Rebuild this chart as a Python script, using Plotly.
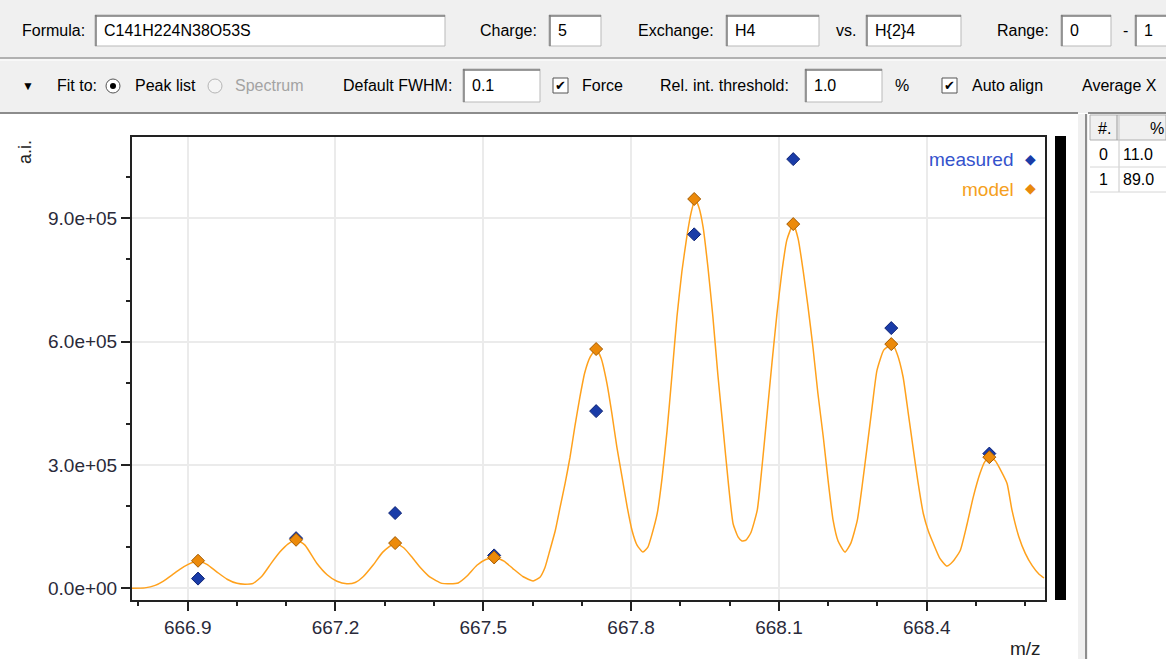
import plotly.graph_objects as go

W, H = 1166, 659

# ---------------- data ----------------
peak_mz = [666.921, 667.120, 667.321, 667.522, 667.729, 667.928, 668.129, 668.328, 668.527]
measured = [23500, 122000, 183000, 80000, 431000, 861000, 1044000, 633000, 327600]
model = [67000, 118000, 110000, 75000, 582000, 947000, 886000, 594000, 319000]

curve_mz = [666.787, 666.813, 666.834, 666.850, 666.868, 666.884, 666.901, 666.921, 666.939,
            666.959, 666.980, 667.000, 667.016, 667.033, 667.051, 667.069, 667.087, 667.104,
            667.120, 667.138, 667.162, 667.183, 667.203, 667.223, 667.240, 667.256, 667.276,
            667.296, 667.321, 667.339, 667.357, 667.374, 667.392, 667.416, 667.432, 667.449,
            667.467, 667.487, 667.505, 667.524, 667.542, 667.560, 667.581, 667.601, 667.615,
            667.625, 667.635, 667.646, 667.656, 667.666, 667.676, 667.686, 667.696, 667.706,
            667.717, 667.729, 667.739, 667.751, 667.761, 667.771, 667.782, 667.792, 667.802,
            667.812, 667.824, 667.834, 667.842, 667.853, 667.863, 667.873, 667.883, 667.893,
            667.903, 667.913, 667.922, 667.930, 667.938, 667.946, 667.956, 667.966, 667.976,
            667.987, 667.997, 668.007, 668.017, 668.025, 668.033, 668.043, 668.056, 668.066,
            668.076, 668.086, 668.096, 668.106, 668.116, 668.129, 668.139, 668.149, 668.159,
            668.169, 668.179, 668.190, 668.200, 668.210, 668.220, 668.234, 668.246, 668.259,
            668.269, 668.279, 668.289, 668.299, 668.313, 668.330, 668.340, 668.352, 668.362,
            668.372, 668.382, 668.393, 668.403, 668.413, 668.427, 668.441, 668.453, 668.468,
            668.482, 668.494, 668.508, 668.518, 668.528, 668.539, 668.551, 668.563, 668.573,
            668.587, 668.600, 668.614, 668.628, 668.638]
curve_int_k = [0, 1, 7, 17, 32, 46, 58, 67, 58,
               40, 22, 12, 10, 12, 30, 60, 88, 108,
               118, 105, 61, 33, 17, 11, 14, 28, 56,
               88, 110, 98, 73, 48, 27, 12, 11, 13,
               30, 56, 70, 75, 66, 48, 28, 18, 27,
               50, 92, 140, 198, 255, 319, 395, 465, 525,
               563, 582, 560, 498, 425, 344, 268, 198, 140,
               105, 88, 100, 130, 182, 270, 384, 520, 660,
               770, 855, 915, 947, 925, 879, 780, 660, 520,
               384, 260, 157, 125, 115, 117, 135, 190, 300,
               425, 550, 668, 770, 847, 886, 850, 774, 685,
               587, 475, 368, 260, 165, 115, 88, 110, 165,
               250, 344, 440, 530, 580, 594, 570, 514, 430,
               344, 260, 182, 140, 110, 72, 54, 65, 92,
               157, 220, 279, 308, 319, 310, 285, 255, 190,
               125, 85, 55, 34, 25]
curve_int = [v * 1000 for v in curve_int_k]

y_tickvals = [0, 300000, 600000, 900000]
y_ticktext = ["0.0e+00", "3.0e+05", "6.0e+05", "9.0e+05"]

table_rows = [("0", "11.0"), ("1", "89.0")]

# ---------------- styling helpers ----------------
FONT = "Arial, 'Liberation Sans', sans-serif"
def px(x):
    return x / W
def py(y):
    return 1 - y / H

shapes = []
annotations = []

def rect(x0, y0, x1, y1, fill, line=None, lw=1):
    shapes.append(dict(type="rect", xref="paper", yref="paper",
                       x0=px(x0), x1=px(x1), y0=py(y1), y1=py(y0),
                       fillcolor=fill, line=dict(color=line or fill, width=lw if line else 0),
                       layer="below"))

def hline(x0, x1, y, color, lw=1):
    shapes.append(dict(type="line", xref="paper", yref="paper",
                       x0=px(x0), x1=px(x1), y0=py(y), y1=py(y),
                       line=dict(color=color, width=lw)))

def vline(x, y0, y1, color, lw=1):
    shapes.append(dict(type="line", xref="paper", yref="paper",
                       x0=px(x), x1=px(x), y0=py(y0), y1=py(y1),
                       line=dict(color=color, width=lw)))

def text(x, y, s, size=16, color="#000000", anchor="left", angle=0):
    annotations.append(dict(xref="paper", yref="paper", x=px(x), y=py(y), text=s,
                            showarrow=False, xanchor=anchor, yanchor="middle",
                            textangle=angle,
                            font=dict(family=FONT, size=size, color=color)))

def field(x0, y0, x1, y1, s):
    rect(x0, y0, x1, y1, "#ffffff", "#b9b9b9", 1)
    hline(x0, x1, y0 + 1, "#7a7a7a", 1.5)
    vline(x0 + 1, y0, y1, "#7a7a7a", 1.5)
    text(x0 + 7, (y0 + y1) / 2, s)

def checkbox(x, y):
    rect(x, y - 8, x + 15, y + 7, "#ffffff", "#555555", 1)
    text(x + 7.5, y, "✔", size=13, color="#000000", anchor="center")

# ---------------- UI chrome ----------------
rect(0, 0, W, 113, "#f0f0f0")
hline(0, W, 58, "#9c9c9c", 1.5)
hline(0, W, 60, "#ffffff", 1)
hline(0, 1078, 113, "#8c8c8c", 2)
hline(1088, W, 113, "#8c8c8c", 2)

# row 1
text(20, 31, "Formula:")
field(95, 15, 445, 46, "C141H224N38O53S")
text(478, 31, "Charge:")
field(549, 15, 601, 46, "5")
text(636, 31, "Exchange:")
field(726, 15, 819, 46, "H4")
text(834, 31, "vs.")
field(866, 15, 961, 46, "H{2}4")
text(995, 31, "Range:")
field(1061, 15, 1111, 46, "0")
text(1121, 31, "-")
field(1135, 15, 1175, 46, "1")

# row 2
text(28, 86, "▼", size=12, anchor="center")
text(55, 86, "Fit to:")
shapes.append(dict(type="circle", xref="paper", yref="paper",
                   x0=px(106), x1=px(120), y0=py(93), y1=py(79),
                   fillcolor="#ffffff", line=dict(color="#555555", width=1)))
shapes.append(dict(type="circle", xref="paper", yref="paper",
                   x0=px(110), x1=px(116), y0=py(89), y1=py(83),
                   fillcolor="#000000", line=dict(color="#000000", width=0)))
text(133, 86, "Peak list")
shapes.append(dict(type="circle", xref="paper", yref="paper",
                   x0=px(208), x1=px(222), y0=py(93), y1=py(79),
                   fillcolor="#f4f4f4", line=dict(color="#b5b5b5", width=1)))
text(233, 86, "Spectrum", color="#a3a3a3")
text(341, 86, "Default FWHM:")
field(463, 69, 540, 102, "0.1")
checkbox(553, 86)
text(580, 86, "Force")
text(658, 86, "Rel. int. threshold:")
field(805, 69, 882, 102, "1.0")
text(893, 86, "%")
checkbox(942, 86)
text(970, 86, "Auto align")
text(1080, 86, "Average X")

# right panel
rect(1078, 114, 1088, H, "#f0f0f0")
vline(1086, 114, H, "#8e8e8e", 2)
rect(1090, 114, W, H, "#ffffff")
rect(1090, 115, W, 140, "#f0f0f0", "#b0b0b0", 1)
vline(1119, 115, 192, "#c8c8c8", 1)
vline(1117, 115, 140, "#9c9c9c", 1)
text(1104, 128, "#.", size=16, anchor="center")
text(1157, 128, "%", size=16, anchor="center")
for i, (a, b) in enumerate(table_rows):
    yc = 155 + 25 * i
    text(1097, yc, a, size=16)
    text(1121, yc, b, size=16)
    hline(1090, W, yc + 12, "#d6d6d6", 1)

# black bar at right of plot
rect(1055, 136, 1066, 600, "#000000")

# axis titles and legend text
text(25, 152, "a.i.", size=18, color="#222222", anchor="center", angle=-90)
text(1025, 648, "m/z", size=19, color="#222222", anchor="center")
text(1016, 160, "measured", size=19, color="#3452cc", anchor="right")
text(1016, 189, "model", size=19, color="#f5a020", anchor="right")
text(1030, 159, "◆", size=14, color="#1a3ca8", anchor="center")
text(1030, 188, "◆", size=14, color="#e8890c", anchor="center")

# ---------------- traces ----------------
fig = go.Figure()
fig.add_trace(go.Scatter(x=curve_mz, y=curve_int, mode="lines",
                         line=dict(color="#ffa11c", width=1.5, shape="spline", smoothing=0.5),
                         hoverinfo="skip", showlegend=False))
fig.add_trace(go.Scatter(x=peak_mz, y=measured, mode="markers", name="measured",
                         marker=dict(symbol="diamond", size=10, color="#1a3ca8",
                                     line=dict(color="#0c2275", width=1)),
                         showlegend=False))
fig.add_trace(go.Scatter(x=peak_mz, y=model, mode="markers", name="model",
                         marker=dict(symbol="diamond", size=10, color="#ec8a0a",
                                     line=dict(color="#a35a00", width=1)),
                         showlegend=False))

tickfont = dict(family=FONT, size=19, color="#2a2a3a")
fig.update_layout(
    width=W, height=H,
    margin=dict(l=0, r=0, t=0, b=0),
    paper_bgcolor="#ffffff",
    plot_bgcolor="#ffffff",
    shapes=shapes,
    annotations=annotations,
    showlegend=False,
    xaxis=dict(domain=[px(132), px(1045)], range=[666.787, 668.640],
               tick0=666.9, dtick=0.3, tickformat=".1f",
               ticks="outside", ticklen=9, tickwidth=1.5, tickcolor="#222222",
               showline=True, linecolor="#222222", linewidth=2, mirror=True,
               showgrid=True, gridcolor="#ebebeb", gridwidth=1.5, zeroline=False,
               tickfont=tickfont,
               minor=dict(tick0=666.8, dtick=0.1, ticks="outside", ticklen=4,
                          tickcolor="#222222", tickwidth=1.5, showgrid=False)),
    yaxis=dict(domain=[py(600), py(137)], range=[-28500, 1097800],
               tickvals=y_tickvals, ticktext=y_ticktext,
               ticks="outside", ticklen=9, tickwidth=1.5, tickcolor="#222222",
               showline=True, linecolor="#222222", linewidth=2, mirror=True,
               showgrid=True, gridcolor="#ebebeb", gridwidth=1.5, zeroline=False,
               tickfont=tickfont,
               minor=dict(tick0=0, dtick=100000, ticks="outside", ticklen=4,
                          tickcolor="#222222", tickwidth=1.5, showgrid=False)),
)

fig.write_html("out.html",
               config={"displayModeBar": False},
               post_script="document.body.style.margin='0px';document.body.style.overflow='hidden';")
